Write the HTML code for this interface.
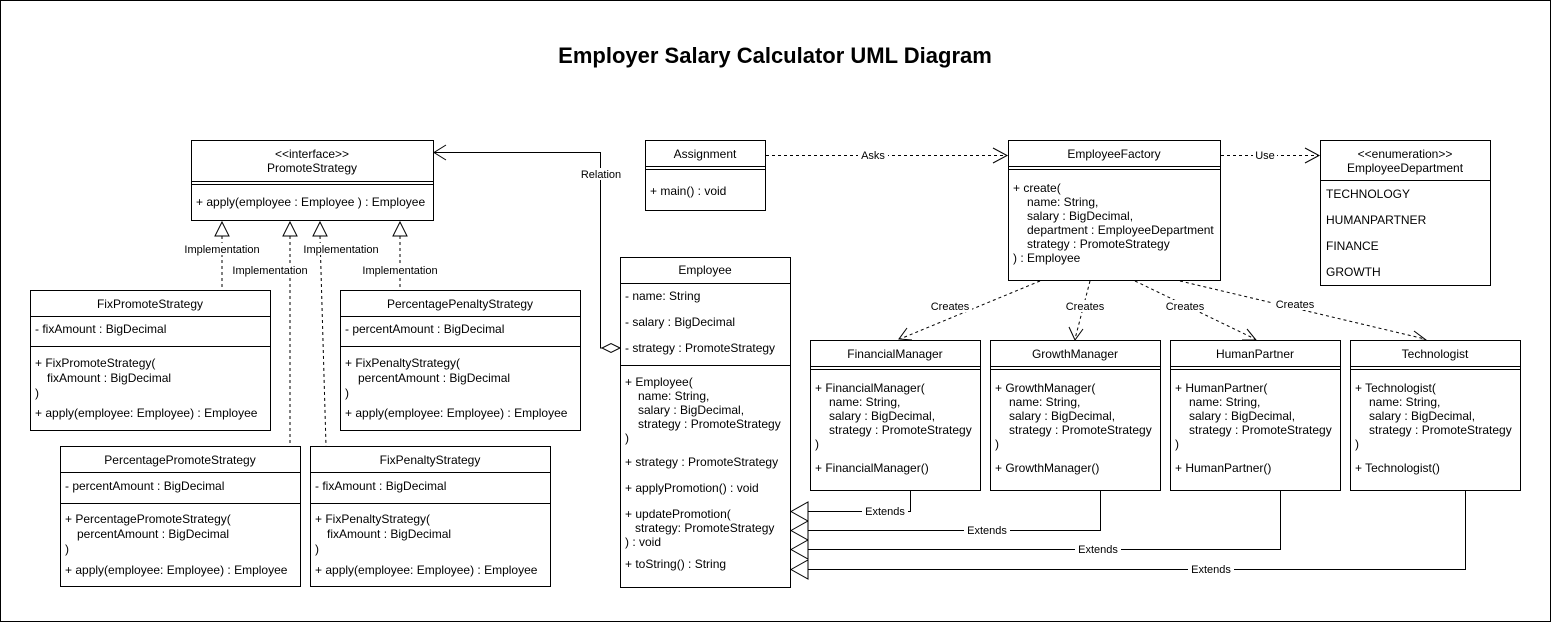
<!DOCTYPE html>
<html><head><meta charset="utf-8"><style>
html,body{margin:0;padding:0;background:#fff}
svg{display:block}
text{font-family:"Liberation Sans",Arial,sans-serif;font-size:12px;fill:#000}
.b{fill:#fff;stroke:#000;stroke-width:1}
.l{stroke:#000;stroke-width:1;fill:none}
.d{stroke:#000;stroke-width:1;fill:none;stroke-dasharray:3,3}
.s{font-size:11px}
.c{text-anchor:middle}
</style></head><body>
<svg width="1551" height="622" viewBox="0 0 1551 622" xmlns="http://www.w3.org/2000/svg">
<rect x="0.5" y="0.5" width="1550" height="621" fill="#fff" stroke="#000"/>
<text x="775" y="63" class="c" style="font-size:22px;font-weight:bold">Employer Salary Calculator UML Diagram</text>

<!-- PromoteStrategy -->
<rect class="b" x="191.5" y="140.5" width="242" height="80"/>
<text x="312" y="158" class="c">&lt;&lt;interface&gt;&gt;</text>
<text x="312" y="172" class="c">PromoteStrategy</text>
<line class="l" x1="191" y1="181.5" x2="433" y2="181.5"/><line class="l" x1="191" y1="184.5" x2="433" y2="184.5"/>
<text x="196" y="206">+ apply(employee : Employee ) : Employee</text>

<!-- implementation lines -->
<line class="d" x1="222" y1="236" x2="222" y2="290"/>
<line class="d" x1="290" y1="236" x2="290" y2="446"/>
<line class="d" x1="320" y1="236" x2="326" y2="446"/>
<line class="d" x1="400" y1="236" x2="400" y2="290"/>
<g class="b"><path d="M222 222 L215 236 L229 236 Z"/><path d="M290 222 L283 236 L297 236 Z"/><path d="M320 222 L313 236 L327 236 Z"/><path d="M400 222 L393 236 L407 236 Z"/></g>
<rect x="183" y="243" width="78" height="12" fill="#fff"/><text x="222" y="253" class="c s">Implementation</text>
<rect x="231" y="264" width="78" height="12" fill="#fff"/><text x="270" y="274" class="c s">Implementation</text>
<rect x="302" y="243" width="78" height="12" fill="#fff"/><text x="341" y="253" class="c s">Implementation</text>
<rect x="361" y="264" width="78" height="12" fill="#fff"/><text x="400" y="274" class="c s">Implementation</text>

<!-- FixPromoteStrategy -->
<rect class="b" x="30.5" y="290.5" width="240" height="140"/>
<text x="150" y="308" class="c">FixPromoteStrategy</text>
<line class="l" x1="30" y1="316.5" x2="270" y2="316.5"/>
<text x="35" y="333">- fixAmount : BigDecimal</text>
<line class="l" x1="30" y1="346.5" x2="270" y2="346.5"/>
<text x="35" y="367">+ FixPromoteStrategy(</text><text x="47" y="382">fixAmount : BigDecimal</text><text x="35" y="397">)</text>
<text x="35" y="417">+ apply(employee: Employee) : Employee</text>

<!-- PercentagePenaltyStrategy -->
<rect class="b" x="340.5" y="290.5" width="240" height="140"/>
<text x="460" y="308" class="c">PercentagePenaltyStrategy</text>
<line class="l" x1="340" y1="316.5" x2="580" y2="316.5"/>
<text x="345" y="333">- percentAmount : BigDecimal</text>
<line class="l" x1="340" y1="346.5" x2="580" y2="346.5"/>
<text x="345" y="367">+ FixPenaltyStrategy(</text><text x="358" y="382">percentAmount : BigDecimal</text><text x="345" y="397">)</text>
<text x="345" y="417">+ apply(employee: Employee) : Employee</text>

<!-- PercentagePromoteStrategy -->
<rect class="b" x="60.5" y="446.5" width="240" height="140"/>
<text x="180" y="464" class="c">PercentagePromoteStrategy</text>
<line class="l" x1="60" y1="472.5" x2="300" y2="472.5"/>
<text x="65" y="490">- percentAmount : BigDecimal</text>
<line class="l" x1="60" y1="503.5" x2="300" y2="503.5"/>
<text x="65" y="523">+ PercentagePromoteStrategy(</text><text x="77" y="538">percentAmount : BigDecimal</text><text x="65" y="553">)</text>
<text x="65" y="574">+ apply(employee: Employee) : Employee</text>

<!-- FixPenaltyStrategy -->
<rect class="b" x="310.5" y="446.5" width="240" height="140"/>
<text x="430" y="464" class="c">FixPenaltyStrategy</text>
<line class="l" x1="310" y1="472.5" x2="550" y2="472.5"/>
<text x="315" y="490">- fixAmount : BigDecimal</text>
<line class="l" x1="310" y1="503.5" x2="550" y2="503.5"/>
<text x="315" y="523">+ FixPenaltyStrategy(</text><text x="327" y="538">fixAmount : BigDecimal</text><text x="315" y="553">)</text>
<text x="315" y="574">+ apply(employee: Employee) : Employee</text>

<!-- Relation -->
<path class="l" d="M602 348 L600.5 348 L600.5 152.5 L434 152.5"/>
<path class="l" d="M446 145 L434 152.5 L446 160"/>
<path class="b" d="M620 348 L611 343.5 L602 348 L611 352.5 Z"/>
<rect x="580" y="168" width="42" height="12" fill="#fff"/><text x="601" y="178" class="c s">Relation</text>

<!-- Assignment -->
<rect class="b" x="645.5" y="140.5" width="120" height="70"/>
<text x="705" y="158" class="c">Assignment</text>
<line class="l" x1="645" y1="166.5" x2="765" y2="166.5"/><line class="l" x1="645" y1="169.5" x2="765" y2="169.5"/>
<text x="650" y="195">+ main() : void</text>

<line class="d" x1="766" y1="155.5" x2="1006" y2="155.5"/>
<path class="l" d="M993 148 L1007 155.5 L993 163"/>
<rect x="858" y="149" width="30" height="12" fill="#fff"/><text x="873" y="159" class="c s">Asks</text>

<!-- EmployeeFactory -->
<rect class="b" x="1008.5" y="140.5" width="212" height="140"/>
<text x="1114" y="158" class="c">EmployeeFactory</text>
<line class="l" x1="1008" y1="166.5" x2="1220" y2="166.5"/><line class="l" x1="1008" y1="169.5" x2="1220" y2="169.5"/>
<text x="1013" y="192">+ create(</text>
<text x="1027" y="206">name: String,</text>
<text x="1027" y="220">salary : BigDecimal,</text>
<text x="1027" y="234">department : EmployeeDepartment</text>
<text x="1027" y="248">strategy : PromoteStrategy</text>
<text x="1013" y="262">) : Employee</text>

<line class="d" x1="1221" y1="155.5" x2="1318" y2="155.5"/>
<path class="l" d="M1305 148 L1319 155.5 L1305 163"/>
<rect x="1253" y="149" width="24" height="12" fill="#fff"/><text x="1265" y="159" class="c s">Use</text>

<!-- EmployeeDepartment -->
<rect class="b" x="1320.5" y="140.5" width="170" height="145"/>
<text x="1405" y="158" class="c">&lt;&lt;enumeration&gt;&gt;</text>
<text x="1405" y="172" class="c">EmployeeDepartment</text>
<line class="l" x1="1320" y1="180.5" x2="1490" y2="180.5"/>
<text x="1326" y="198">TECHNOLOGY</text>
<text x="1326" y="224">HUMANPARTNER</text>
<text x="1326" y="250">FINANCE</text>
<text x="1326" y="276">GROWTH</text>

<!-- Employee -->
<rect class="b" x="620.5" y="257.5" width="170" height="330"/>
<text x="705" y="274" class="c">Employee</text>
<line class="l" x1="620" y1="283.5" x2="790" y2="283.5"/>
<text x="625" y="300">- name: String</text>
<text x="625" y="326">- salary : BigDecimal</text>
<text x="625" y="352">- strategy : PromoteStrategy</text>
<line class="l" x1="620" y1="365.5" x2="790" y2="365.5"/>
<text x="625" y="386">+ Employee(</text>
<text x="638" y="400">name: String,</text>
<text x="638" y="414">salary : BigDecimal,</text>
<text x="638" y="428">strategy : PromoteStrategy</text>
<text x="625" y="442">)</text>
<text x="625" y="466">+ strategy : PromoteStrategy</text>
<text x="625" y="492">+ applyPromotion() : void</text>
<text x="625" y="518">+ updatePromotion(</text>
<text x="635" y="532">strategy: PromoteStrategy</text>
<text x="625" y="546">) : void</text>
<text x="625" y="568">+ toString() : String</text>

<!-- Creates -->
<line class="d" x1="1040" y1="281" x2="900" y2="339"/>
<path class="l" d="M907 328 L899 339 L912 340"/>
<line class="d" x1="1090" y1="281" x2="1075" y2="339"/>
<path class="l" d="M1069 327 L1075 340 L1083 329"/>
<line class="d" x1="1135" y1="281" x2="1255" y2="339"/>
<path class="l" d="M1242 340 L1256 340 L1247 329"/>
<line class="d" x1="1180" y1="281" x2="1425" y2="339"/>
<path class="l" d="M1411 341 L1426 340 L1414 331"/>
<rect x="928" y="300" width="44" height="12" fill="#fff"/><text x="950" y="310" class="c s">Creates</text>
<rect x="1063" y="300" width="44" height="12" fill="#fff"/><text x="1085" y="310" class="c s">Creates</text>
<rect x="1163" y="300" width="44" height="12" fill="#fff"/><text x="1185" y="310" class="c s">Creates</text>
<rect x="1273" y="298" width="44" height="12" fill="#fff"/><text x="1295" y="308" class="c s">Creates</text>

<!-- Subclasses -->
<g>
<rect class="b" x="810.5" y="340.5" width="170" height="150"/>
<text x="895" y="358" class="c">FinancialManager</text>
<line class="l" x1="810" y1="366.5" x2="980" y2="366.5"/><line class="l" x1="810" y1="369.5" x2="980" y2="369.5"/>
<text x="815" y="392">+ FinancialManager(</text><text x="829" y="406">name: String,</text><text x="829" y="420">salary : BigDecimal,</text><text x="829" y="434">strategy : PromoteStrategy</text><text x="815" y="448">)</text>
<text x="815" y="472">+ FinancialManager()</text>
</g>
<g>
<rect class="b" x="990.5" y="340.5" width="170" height="150"/>
<text x="1075" y="358" class="c">GrowthManager</text>
<line class="l" x1="990" y1="366.5" x2="1160" y2="366.5"/><line class="l" x1="990" y1="369.5" x2="1160" y2="369.5"/>
<text x="995" y="392">+ GrowthManager(</text><text x="1009" y="406">name: String,</text><text x="1009" y="420">salary : BigDecimal,</text><text x="1009" y="434">strategy : PromoteStrategy</text><text x="995" y="448">)</text>
<text x="995" y="472">+ GrowthManager()</text>
</g>
<g>
<rect class="b" x="1170.5" y="340.5" width="170" height="150"/>
<text x="1255" y="358" class="c">HumanPartner</text>
<line class="l" x1="1170" y1="366.5" x2="1340" y2="366.5"/><line class="l" x1="1170" y1="369.5" x2="1340" y2="369.5"/>
<text x="1175" y="392">+ HumanPartner(</text><text x="1189" y="406">name: String,</text><text x="1189" y="420">salary : BigDecimal,</text><text x="1189" y="434">strategy : PromoteStrategy</text><text x="1175" y="448">)</text>
<text x="1175" y="472">+ HumanPartner()</text>
</g>
<g>
<rect class="b" x="1350.5" y="340.5" width="170" height="150"/>
<text x="1435" y="358" class="c">Technologist</text>
<line class="l" x1="1350" y1="366.5" x2="1520" y2="366.5"/><line class="l" x1="1350" y1="369.5" x2="1520" y2="369.5"/>
<text x="1355" y="392">+ Technologist(</text><text x="1369" y="406">name: String,</text><text x="1369" y="420">salary : BigDecimal,</text><text x="1369" y="434">strategy : PromoteStrategy</text><text x="1355" y="448">)</text>
<text x="1355" y="472">+ Technologist()</text>
</g>

<!-- Extends -->
<path class="l" d="M910.5 490 L910.5 511.5 L808 511.5"/>
<path class="l" d="M1100.5 490 L1100.5 530.5 L808 530.5"/>
<path class="l" d="M1280.5 490 L1280.5 549.5 L808 549.5"/>
<path class="l" d="M1465.5 490 L1465.5 569.5 L808 569.5"/>
<g class="b">
<path d="M791 511.5 L808 502 L808 521 Z"/>
<path d="M791 530.5 L808 521 L808 540 Z"/>
<path d="M791 549.5 L808 540 L808 559 Z"/>
<path d="M791 569.5 L808 560 L808 579 Z"/>
</g>
<rect x="862" y="505" width="46" height="12" fill="#fff"/><text x="885" y="515" class="c s">Extends</text>
<rect x="964" y="524" width="46" height="12" fill="#fff"/><text x="987" y="534" class="c s">Extends</text>
<rect x="1075" y="543" width="46" height="12" fill="#fff"/><text x="1098" y="553" class="c s">Extends</text>
<rect x="1188" y="563" width="46" height="12" fill="#fff"/><text x="1211" y="573" class="c s">Extends</text>
</svg>
</body></html>
